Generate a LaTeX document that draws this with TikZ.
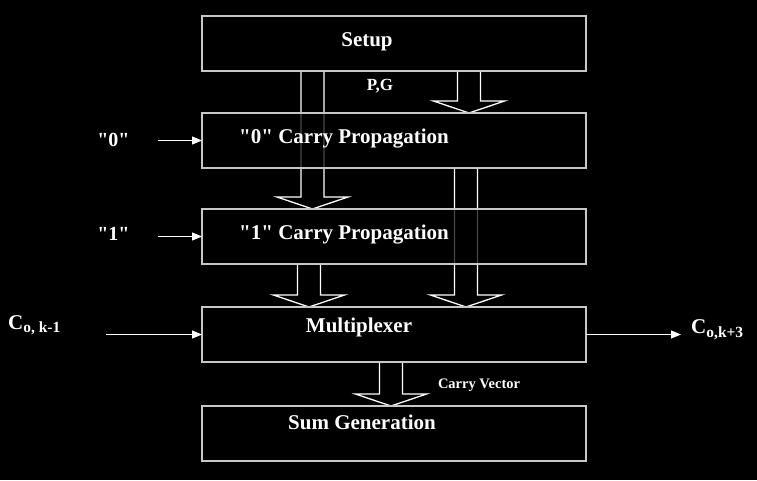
\documentclass[tikz,border=0pt]{standalone}
\usepackage{fontspec}
\setmainfont{Liberation Serif}[Ligatures=TeXOff]
\usetikzlibrary{arrows.meta,calc}
\pgfdeclarelayer{back}
\pgfsetlayers{back,main}

\tikzset{
  stage/.style={draw=white!78!black, line width=1.4pt, fill=black, fill opacity=0.72,
    text opacity=1, minimum width=384pt, minimum height=55pt, inner sep=0pt, outer sep=0pt},
  title/.style={text=white, font=\fontsize{21}{24}\selectfont\bfseries, inner sep=0pt},
  tag/.style={text=white, font=\fontsize{15}{18}\selectfont\bfseries, inner sep=0pt},
  feed/.style={white, line width=1pt, -{Triangle[length=10pt,width=8pt]}},
  bus/.style={white, line width=1.3pt, line join=miter},
}
\newcommand{\fatarrow}[2]{%
  \draw[bus] let \p1=#1, \p2=#2 in
    (\x1-11.5pt,\y1) -- (\x1-11.5pt,\y2+12pt) -- (\x1-35.5pt,\y2+12pt) -- (\x1,\y2)
    -- (\x1+35.5pt,\y2+12pt) -- (\x1+11.5pt,\y2+12pt) -- (\x1+11.5pt,\y1);}

\begin{document}
\begin{tikzpicture}[x=1pt,y=-1pt]
        % stages
        \node[stage] (setup) at (394,43.5) {};
        \node[stage] (prop0) at (394,140.5) {};
        \node[stage] (prop1) at (394,236.5) {};
        \node[stage] (mux) at (394,334.5) {};
        \node[stage] (sumgen) at (394,433.5) {};

        \node[title] (setuptxt) at (367,42) {Setup};
        \node[title] (prop0txt) at (344,138.5) {"0" Carry Propagation};
        \node[title] (prop1txt) at (344,234.5) {"1" Carry Propagation};
        \node[title] (muxtxt) at (359,327.5) {Multiplexer};
        \node[title] (sumtxt) at (362,422.5) {Sum Generation};

        % signals between stages
        \begin{pgfonlayer}{back}
        \fill[black] (0,0) rectangle (757,480);
        \fatarrow{([xshift=-81.5pt]setup.south)}{([xshift=-81.5pt]prop1.north)}
        \fatarrow{([xshift=75pt]setup.south)}{([xshift=75pt]prop0.north)}
        \fatarrow{([xshift=72pt]prop0.south)}{([xshift=72pt]mux.north)}
        \fatarrow{([xshift=-85pt]prop1.south)}{([xshift=-85pt]mux.north)}
        \fatarrow{([xshift=-3pt]mux.south)}{([xshift=-3pt]sumgen.north)}
        \end{pgfonlayer}
        \node[tag, font=\fontsize{17}{20}\selectfont\bfseries] (pg) at (380,86) {P,G};
        \node[tag, font=\fontsize{14.5}{17}\selectfont\bfseries] (cvec) at (479,385) {Carry Vector};

        % inputs and output
        \node[title, font=\fontsize{20}{24}\selectfont\bfseries] (zero) at (113.5,140) {"0"};
        \node[title, font=\fontsize{20}{24}\selectfont\bfseries] (one) at (113.5,233.5) {"1"};
        \node[title, anchor=base west] (cin) at (8,329) {C\textsubscript{\fontsize{15.5}{18}\selectfont o, k-1}};
        \node[title, anchor=base west] (cout) at (691,333.5) {C\textsubscript{\fontsize{15.5}{18}\selectfont o,k+3}};

        \draw[feed, shorten <=28pt] (prop0.west -| zero.east) -- (prop0.west);
        \draw[feed, shorten <=28pt] (prop1.west -| one.east) -- (prop1.west);
        \draw[feed, shorten <=45pt] (mux.west -| cin.east) -- (mux.west);
        \draw[feed, shorten >=10pt] (mux.east) -- (mux.east -| cout.west);
\end{tikzpicture}
\end{document}
